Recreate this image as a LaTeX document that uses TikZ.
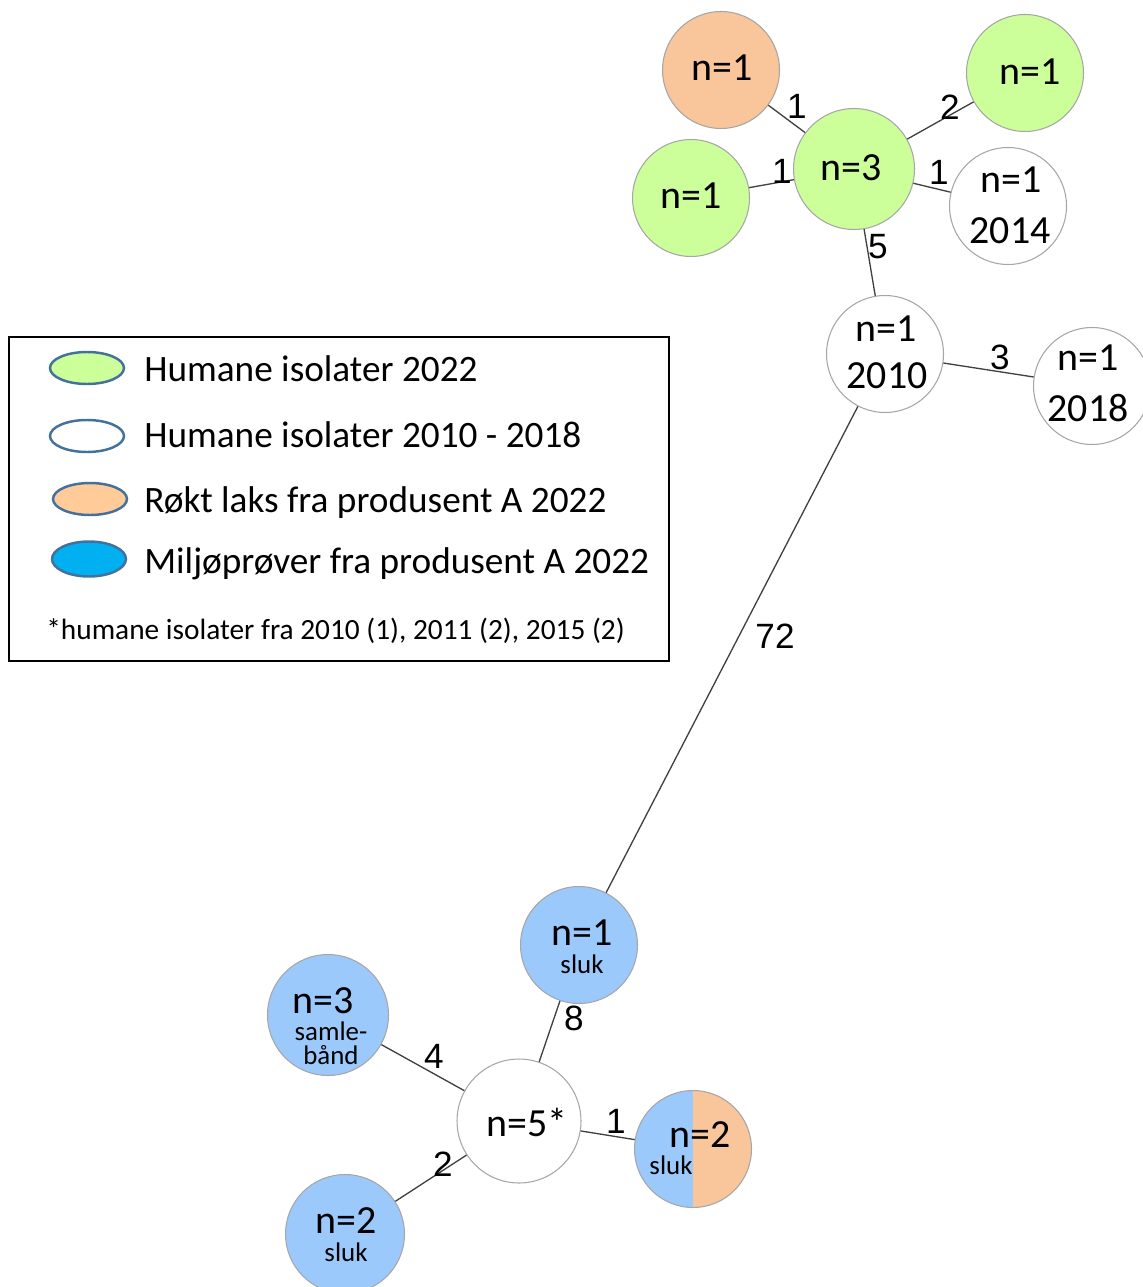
\documentclass[tikz,border=0pt]{standalone}
\usepackage{fontspec}
\setmainfont{Carlito}
\newfontfamily\edgefont{Liberation Sans}
\usetikzlibrary{shapes.geometric}
\definecolor{greenN}{HTML}{CCFF99}
\definecolor{orangeN}{HTML}{F9C59A}
\definecolor{blueN}{HTML}{9CC9FC}
\definecolor{nodeborder}{HTML}{A6A6A6}
\definecolor{edgecol}{HTML}{404040}
\definecolor{legGreen}{HTML}{CCFF99}
\definecolor{legOrange}{HTML}{FFCC99}
\definecolor{legBlue}{HTML}{00B0F0}
\definecolor{legBorder}{HTML}{41719C}
\begin{document}
\begin{tikzpicture}[x=0.02cm,y=-0.02cm,
  nd/.style={circle,draw=nodeborder,line width=0.6pt,minimum size=2.34cm,inner sep=0pt},
  splitnd/.style={nd,fill=orangeN,path picture={\fill[blueN] (path picture bounding box.south west) rectangle (path picture bounding box.north);}},
  big/.style={font=\fontsize{22.7}{26}\selectfont,inner sep=0pt},
  small/.style={font=\fontsize{15.3}{18}\selectfont,inner sep=0pt},
  elab/.style={font=\edgefont\fontsize{20}{22}\selectfont,inner sep=0pt,text=black},
  edge/.style={draw=edgecol,line width=0.75pt},
  legell/.style={ellipse,draw=legBorder,line width=1.4pt,minimum width=1.48cm,minimum height=0.64cm,inner sep=0pt},
  legtxt/.style={anchor=base west,font=\fontsize{21.2}{24}\selectfont,inner sep=0pt}
]
\useasboundingbox (0,0) rectangle (1142,1287);

% nodes
\node[nd,fill=orangeN] (o1) at (721,70) {};
\node[nd,fill=greenN,minimum size=2.42cm] (g3) at (854,169) {};
\node[nd,fill=greenN] (g1r) at (1025,73) {};
\node[nd,fill=greenN] (g1l) at (691,198) {};
\node[nd,fill=white] (w14) at (1008,206) {};
\node[nd,fill=white] (w10) at (885,354) {};
\node[nd,fill=white] (w18) at (1092,386) {};
\node[nd,fill=blueN] (b1) at (579,945) {};
\node[nd,fill=blueN,minimum size=2.42cm] (b3) at (328,1015) {};
\node[nd,fill=white,minimum size=2.48cm] (w5) at (519,1121) {};
\node[splitnd] (s2) at (693,1149) {};
\node[nd,fill=blueN,minimum size=2.38cm] (b2) at (345,1234) {};

% edges
\draw[edge] (o1) -- (g3);
\draw[edge] (g3) -- (g1r);
\draw[edge] (g1l) -- (g3);
\draw[edge] (g3) -- (w14);
\draw[edge] (g3) -- (w10);
\draw[edge] (w10) -- (w18);
\draw[edge] (w10) -- (b1);
\draw[edge] (b1) -- (w5);
\draw[edge] (b3) -- (w5);
\draw[edge] (w5) -- (b2);
\draw[edge] (w5) -- (s2);

% edge labels
\node[elab] (e1) at (797,106) {1};
\node[elab] (e2) at (950,107) {2};
\node[elab] (e3) at (782,171) {1};
\node[elab] (e4) at (939,172) {1};
\node[elab] (e5) at (878,247) {5};
\node[elab] (e6) at (1000,357) {3};
\node[elab] (e7) at (775,636) {72};
\node[elab] (e8) at (574,1018) {8};
\node[elab] (e9) at (434,1056) {4};
\node[elab] (e10) at (443,1164) {2};
\node[elab] (e11) at (616,1121) {1};

% node texts
\node[big] (t1) at (722,68) {n=1};
\node[big] (t2) at (851,168) {n=3};
\node[big] (t3) at (1030,72) {n=1};
\node[big] (t4) at (691,196) {n=1};
\node[big] (t5) at (1011,180) {n=1};
\node[big] (t6) at (1010,231) {2014};
\node[big] (t7) at (886,329) {n=1};
\node[big] (t8) at (887,376) {2010};
\node[big] (t9) at (1088,358) {n=1};
\node[big] (t10) at (1088,408) {2018};
\node[big] (t11) at (582,933) {n=1};
\node[small] (t12) at (582,964) {sluk};
\node[big] (t13) at (323,1001) {n=3};
\node[small] (t14) at (331,1031) {samle-};
\node[small] (t15) at (331,1055) {bånd};
\node[big] (t16) at (527,1122) {n=5*};
\node[big] (t17) at (700,1135) {n=2};
\node[small] (t18) at (671,1165) {sluk};
\node[big] (t19) at (346,1221) {n=2};
\node[small] (t20) at (346,1252) {sluk};

% legend
\node[draw=black,line width=1.4pt,minimum width=13.2cm,minimum height=6.48cm,inner sep=0pt,anchor=north west] (leg) at (8,336) {};
\node[legell,fill=legGreen] (l1) at (87,368) {};
\node[legell,fill=white] (l2) at (87,436) {};
\node[legell,fill=legOrange] (l3) at (90,499) {};
\node[legell,fill=legBlue,minimum height=0.7cm] (l4) at (89,559) {};
\node[legtxt] (lt1) at (144,381) {Humane isolater 2022};
\node[legtxt] (lt2) at (144,447) {Humane isolater 2010 - 2018};
\node[legtxt] (lt3) at (144,512) {Røkt laks fra produsent A 2022};
\node[legtxt] (lt4) at (144,573) {Miljøprøver fra produsent A 2022};
\node[anchor=base west,font=\fontsize{16.7}{20}\selectfont,inner sep=0pt] (lt5) at (46,639) {*humane isolater fra 2010 (1), 2011 (2), 2015 (2)};
\end{tikzpicture}
\end{document}
